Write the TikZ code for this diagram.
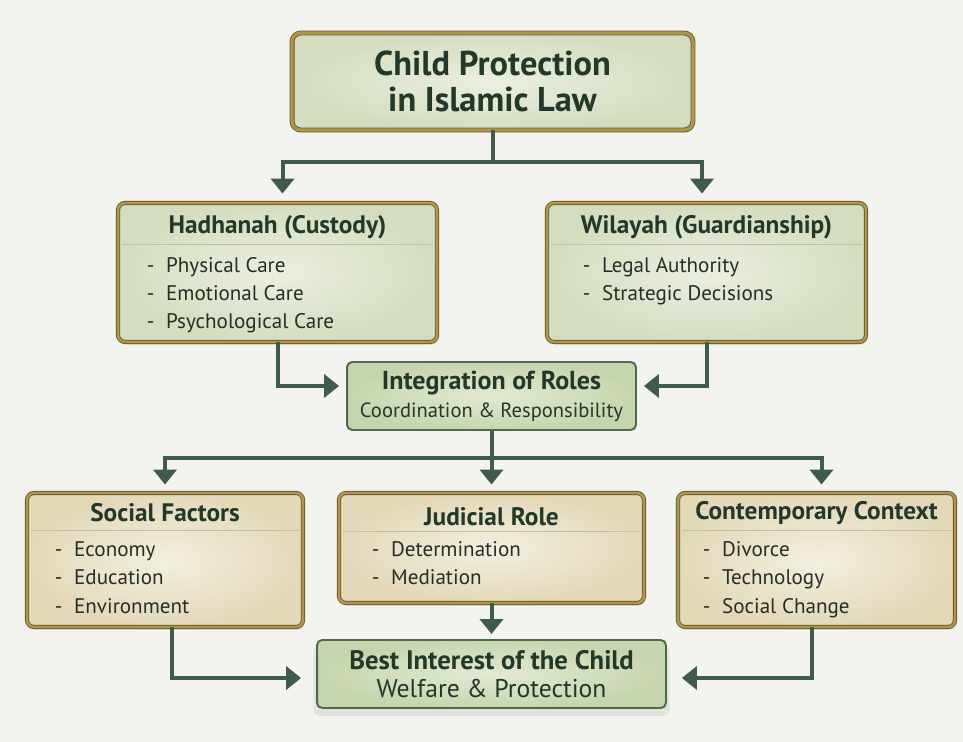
\documentclass[tikz,border=0pt]{standalone}
\usepackage{fontspec}
\setmainfont{PT Sans}
\usetikzlibrary{arrows.meta, positioning, calc, shadows}
\definecolor{PageGrey}{HTML}{F3F3EF}
\definecolor{SageLight}{HTML}{EBEFE0}
\definecolor{SageFill}{HTML}{D4DDC0}
\definecolor{SageCore}{HTML}{E2EAD3}
\definecolor{SageEdge}{HTML}{C7D5AE}
\definecolor{SandLight}{HTML}{F3EFE0}
\definecolor{SandFill}{HTML}{E3D9B9}
\definecolor{GoldRim}{HTML}{AE9650}
\definecolor{GoldDark}{HTML}{6E5C28}
\definecolor{PineGreen}{HTML}{3F5C4B}
\definecolor{FrameGreen}{HTML}{4E6A4C}
\definecolor{InkGreen}{HTML}{22382A}
\definecolor{InkGrey}{HTML}{262E28}
\definecolor{RuleLine}{HTML}{C2C0A4}
\tikzset{
  % Box styles
  headbox/.style={rectangle, rounded corners=5pt, draw=GoldDark, double=GoldRim, double distance=1.8pt, line width=0.5pt, inner color=SageLight, outer color=SageFill, text=InkGreen, font=\fontsize{19.6}{20}\selectfont\bfseries, align=center, drop shadow={shadow xshift=1pt, shadow yshift=-1.5pt, opacity=0.2}},
  sagebox/.style={rectangle, rounded corners=4pt, draw=GoldDark, double=GoldRim, double distance=1.4pt, line width=0.5pt, inner color=SageLight, outer color=SageFill, drop shadow={shadow xshift=1pt, shadow yshift=-1.5pt, opacity=0.2}},
  sandbox/.style={rectangle, rounded corners=4pt, draw=GoldDark, double=GoldRim, double distance=1.4pt, line width=0.5pt, inner color=SandLight, outer color=SandFill, drop shadow={shadow xshift=1pt, shadow yshift=-1.5pt, opacity=0.2}},
  hubbox/.style={rectangle, rounded corners=3pt, draw=FrameGreen, line width=1.1pt, inner color=SageCore, outer color=SageEdge, text=InkGreen, align=center, font=\fontsize{11.7}{15.9}\selectfont},
  % Text styles
  boxtitle/.style={text=InkGreen, font=\fontsize{14.4}{15}\selectfont\bfseries},
  itemtext/.style={anchor=west, inner sep=0pt, text height=8.6pt, text depth=2.6pt, text=InkGrey, font=\fontsize{12}{14}\selectfont},
  ruleline/.style={draw=RuleLine, line width=0.6pt},
  % Arrow styles
  flowline/.style={PineGreen, line width=0.08cm},
  flowarrow/.style={flowline, -{Triangle[width=0.46cm, length=0.3cm]}}
}

\begin{document}
\begin{tikzpicture}[x=0.02cm, y=-0.02cm]
  \useasboundingbox[fill=PageGrey] (0,0) rectangle (963,742);

  % Root
  \node[headbox, minimum width=8.02cm, minimum height=1.94cm] (root) at (492.5,81.5) {Child Protection\\in Islamic Law};

  % Two roles
  \node[sagebox, minimum width=6.38cm, minimum height=2.78cm] (hadh) at (277.5,272.5) {};
  \node[sagebox, minimum width=6.38cm, minimum height=2.78cm] (wil) at (706.5,272.5) {};
  \node[boxtitle] (hadhT) at ($(hadh.north)+(0,25)$) {Hadhanah (Custody)};
  \node[boxtitle] (wilT) at ($(wil.north)+(0,25)$) {Wilayah (Guardianship)};
  \draw[ruleline] ($(hadh.north west)+(4,42)$) -- ($(hadh.north east)+(-4,42)$);
  \draw[ruleline] ($(wil.north west)+(4,42)$) -- ($(wil.north east)+(-4,42)$);
  \foreach \entry [count=\i] in {Physical Care, Emotional Care, Psychological Care}
    \node[itemtext] (hadh-\i) at ($(hadh.north west)+(29,37+28*\i)$) {-\hspace{0.55em}\entry};
  \foreach \entry [count=\i] in {Legal Authority, Strategic Decisions}
    \node[itemtext] (wil-\i) at ($(wil.north west)+(36,37+28*\i)$) {-\hspace{0.55em}\entry};

  % Integration
  \node[hubbox, minimum width=5.78cm, minimum height=1.36cm] (integ) at (491.5,396) {{\fontsize{14.8}{15.9}\selectfont\bfseries Integration of Roles}\\Coordination \& Responsibility};

  % Three factors
  \node[sandbox, minimum width=5.52cm, minimum height=2.68cm] (social) at (165,560) {};
  \node[sandbox, minimum width=6.1cm, minimum height=2.2cm] (judic) at (491.5,548) {};
  \node[sandbox, minimum width=5.54cm, minimum height=2.68cm] (ctx) at (816.5,560) {};
  \node[boxtitle] (socialT) at ($(social.north)+(0,20)$) {Social Factors};
  \node[boxtitle] (judicT) at ($(judic.north)+(0,24)$) {Judicial Role};
  \node[boxtitle] (ctxT) at ($(ctx.north)+(0,20)$) {Contemporary Context};
  \draw[ruleline] ($(social.north west)+(4,38)$) -- ($(social.north east)+(-4,38)$);
  \draw[ruleline] ($(judic.north west)+(4,39)$) -- ($(judic.north east)+(-4,39)$);
  \draw[ruleline] ($(ctx.north west)+(4,38)$) -- ($(ctx.north east)+(-4,38)$);
  \foreach \entry [count=\i] in {Economy, Education, Environment}
    \node[itemtext] (social-\i) at ($(social.north west)+(28,30+28.5*\i)$) {-\hspace{0.55em}\entry};
  \foreach \entry [count=\i] in {Determination, Mediation}
    \node[itemtext] (judic-\i) at ($(judic.north west)+(33,30+28.5*\i)$) {-\hspace{0.55em}\entry};
  \foreach \entry [count=\i] in {Divorce, Technology, Social Change}
    \node[itemtext] (ctx-\i) at ($(ctx.north west)+(25,30+28.5*\i)$) {-\hspace{0.55em}\entry};

  % Outcome
  \node[hubbox, minimum width=6.98cm, minimum height=1.36cm, font=\fontsize{14.6}{15.9}\selectfont, drop shadow={shadow xshift=0pt, shadow yshift=-4pt, shadow scale=1.02, opacity=0.14}] (best) at (491.5,674) {{\fontsize{15.2}{15.9}\selectfont\bfseries Best Interest of the Child}\\Welfare \& Protection};

  % Arrows
  \coordinate (topfork) at ($(root.south)+(0,32)$);
  \coordinate (midfork) at ($(integ.south)+(0,27)$);
  \draw[flowline] (root.south) -- (topfork);
  \draw[flowarrow, shorten >=0.18cm] (topfork) -| ([xshift=0.1cm]hadh.north);
  \draw[flowarrow, shorten >=0.18cm] (topfork) -| ([xshift=-0.09cm]wil.north);
  \draw[flowarrow, shorten >=0.14cm] (hadh.south) |- ([yshift=0.2cm]integ.west);
  \draw[flowarrow, shorten >=0.14cm] (wil.south) |- ([yshift=0.2cm]integ.east);
  \draw[flowline] (integ.south) -- (midfork);
  \draw[flowarrow, shorten >=0.16cm] (midfork) -| (social.north);
  \draw[flowarrow, shorten >=0.16cm] (midfork) -- (judic.north);
  \draw[flowarrow, shorten >=0.16cm] (midfork) -| ([xshift=0.1cm]ctx.north);
  \draw[flowarrow, shorten >=0.1cm] (judic.south) -- (best.north);
  \draw[flowarrow, shorten >=0.3cm] ([xshift=0.14cm]social.south) |- ([yshift=-0.08cm]best.west);
  \draw[flowarrow, shorten >=0.3cm] ([xshift=-0.09cm]ctx.south) |- ([yshift=-0.08cm]best.east);
\end{tikzpicture}
\end{document}
